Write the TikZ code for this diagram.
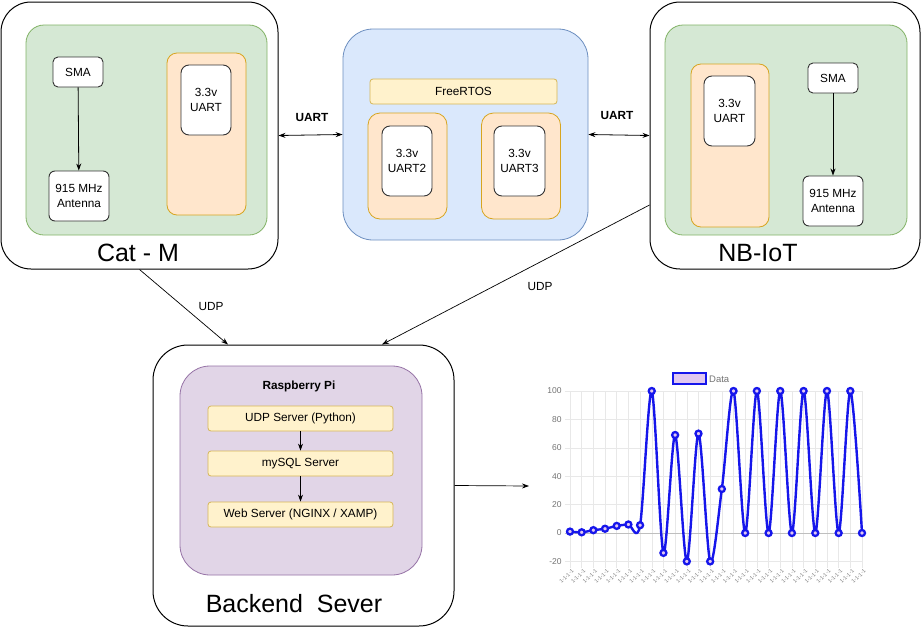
\documentclass[tikz,border=0pt]{standalone}
\usepackage{fontspec}
\setmainfont{Liberation Sans}
\usetikzlibrary{arrows.meta}
\definecolor{grnfill}{HTML}{D5E8D4}
\definecolor{grnline}{HTML}{82B366}
\definecolor{bluefill}{HTML}{DAE8FC}
\definecolor{blueline}{HTML}{6C8EBF}
\definecolor{orgfill}{HTML}{FFE6CC}
\definecolor{orgline}{HTML}{D7A520}
\definecolor{ylwfill}{HTML}{FFF2CC}
\definecolor{ylwline}{HTML}{D6B656}
\definecolor{prpfill}{HTML}{E1D5E7}
\definecolor{prpline}{HTML}{9673A6}
\definecolor{boxline}{HTML}{333333}
\definecolor{chartblue}{RGB}{22,22,235}
\definecolor{chartpink}{RGB}{225,200,240}
\newcommand{\lblfont}{\fontsize{11.8}{14.5}\selectfont}
\newcommand{\bigfont}{\fontsize{25}{28}\selectfont}
\tikzset{outerbox/.style={draw=black, line width=1pt, fill=white, rounded corners=30pt, inner sep=0pt},
 greenbox/.style={draw=grnline, line width=0.8pt, fill=grnfill, rounded corners=18pt, inner sep=0pt},
 bluebox/.style={draw=blueline, line width=0.8pt, fill=bluefill, rounded corners=30pt, inner sep=0pt},
 purplebox/.style={draw=prpline, line width=0.8pt, fill=prpfill, rounded corners=30pt, inner sep=0pt},
 orangebox/.style={draw=orgline, line width=0.8pt, fill=orgfill, rounded corners=10pt, inner sep=0pt},
 whitebox/.style={draw=boxline, line width=0.9pt, fill=white, rounded corners=6pt, inner sep=0pt, align=center, font=\lblfont},
 yellowbox/.style={draw=ylwline, line width=0.8pt, fill=ylwfill, rounded corners=3pt, inner sep=0pt, font=\lblfont},
 lbl/.style={inner sep=1pt, font=\lblfont},
 boldlbl/.style={inner sep=1pt, font=\lblfont\bfseries},
 biglbl/.style={inner sep=0pt, font=\bigfont},
 arr/.style={-{Stealth[length=7pt,width=5pt]}, line width=0.8pt},
 darr/.style={{Stealth[length=7pt,width=5pt]}-{Stealth[length=7pt,width=5pt]}, line width=0.8pt},
 gridline/.style={draw=black!9, line width=0.5pt},
 zeroline/.style={draw=black!25, line width=0.6pt},
 plotline/.style={draw=chartblue, line width=2.4pt, line join=round},
 pointmark/.style={draw=chartblue, fill=chartpink, line width=2.3pt},
 ticklbl/.style={inner sep=0pt, text=black!55, font=\fontsize{8.5}{10}\selectfont},
 xlbl/.style={inner sep=0pt, text=black!50, font=\fontsize{5.5}{6}\selectfont, rotate=45, anchor=east},
 }

\begin{document}
\begin{tikzpicture}[x=1pt, y=-1pt]
    \useasboundingbox (0,0) rectangle (922,627);
    % Cat-M module
    \node[outerbox, minimum width=277pt, minimum height=267pt] (catm) at (139.5,135.5) {};
    \node[greenbox, minimum width=241pt, minimum height=210pt] (catmboard) at (146.5,130) {};
    \node[whitebox, minimum width=50pt, minimum height=30pt, rounded corners=5pt] (catmsma) at (78,72) {SMA};
    \node[whitebox, minimum width=60pt, minimum height=50pt] (catmant) at (79,196) {915 MHz\\Antenna};
    \node[orangebox, minimum width=79pt, minimum height=162pt] (catmport) at (206.5,134) {};
    \node[whitebox, minimum width=50pt, minimum height=70pt, rounded corners=8pt] (catmuart) at (206,100) {3.3v\\UART};
    \node[biglbl] (catmlbl) at (138,253) {Cat - M};
    \draw[arr] (catmsma) -- (catmant);

    % MCU with FreeRTOS
    \node[bluebox, minimum width=245pt, minimum height=211pt] (mcu) at (465.5,134.5) {};
    \node[yellowbox, minimum width=187pt, minimum height=25pt] (rtos) at (463.5,91.5) {FreeRTOS};
    \node[orangebox, minimum width=79pt, minimum height=106pt, rounded corners=12pt] (port2) at (407.5,166) {};
    \node[whitebox, minimum width=50pt, minimum height=70pt, rounded corners=8pt] (uart2) at (407,161) {3.3v\\UART2};
    \node[orangebox, minimum width=79pt, minimum height=106pt, rounded corners=12pt] (port3) at (521,166) {};
    \node[whitebox, minimum width=51pt, minimum height=70pt, rounded corners=8pt] (uart3) at (519.5,161) {3.3v\\UART3};

    % NB-IoT module
    \node[outerbox, minimum width=270pt, minimum height=267pt] (nbiot) at (785,135.5) {};
    \node[greenbox, minimum width=242pt, minimum height=210pt] (nbiotboard) at (786,130) {};
    \node[orangebox, minimum width=78pt, minimum height=163pt] (nbiotport) at (730,145.5) {};
    \node[whitebox, minimum width=51pt, minimum height=70pt, rounded corners=8pt] (nbiotuart) at (729.5,111) {3.3v\\UART};
    \node[whitebox, minimum width=50pt, minimum height=30pt, rounded corners=5pt] (nbiotsma) at (833,78) {SMA};
    \node[whitebox, minimum width=60pt, minimum height=50pt] (nbiotant) at (833,201) {915 MHz\\Antenna};
    \node[biglbl] (nbiotlbl) at (758,253) {NB-IoT};
    \draw[arr] (nbiotsma) -- (nbiotant);

    % UART links
    \draw[darr] (catm.east) -- (mcu.west);
    \draw[darr] (mcu.east) -- (nbiot.west);
    \node[boldlbl] (uartl) at (312,117) {UART};
    \node[boldlbl] (uartr) at (617,115) {UART};

    % backend
    \node[outerbox, minimum width=301pt, minimum height=281pt, rounded corners=35pt] (backend) at (303.5,485.5) {};
    \node[purplebox, minimum width=242pt, minimum height=209pt] (rpi) at (301,470.5) {};
    \node[boldlbl] (rpilbl) at (299,386) {Raspberry Pi};
    \node[yellowbox, minimum width=185pt, minimum height=25pt] (udpsrv) at (300.5,418.5) {UDP Server (Python)};
    \node[yellowbox, minimum width=185pt, minimum height=25pt] (sqlsrv) at (300.5,463.5) {mySQL Server};
    \node[yellowbox, minimum width=185pt, minimum height=25pt] (websrv) at (300.5,514.5) {Web Server (NGINX / XAMP)};
    \node[biglbl] (backendlbl) at (294,604) {Backend\ \ Sever};
    \draw[arr] (udpsrv) -- (sqlsrv);
    \draw[arr] (sqlsrv) -- (websrv);

    % UDP links
    \draw[arr, line width=0.7pt] (catm.south) -- ([xshift=-75.5pt]backend.north);
    \draw[arr, line width=0.7pt] ([yshift=-69.5pt]nbiot.west) -- ([xshift=78.5pt]backend.north);
    \node[lbl] (udpl) at (211,306) {UDP};
    \node[lbl] (udpr) at (540,286) {UDP};

    % chart
    \coordinate (chartin) at (529,486);
    \draw[arr, line width=0.7pt] (backend.east) -- (chartin);
    \begin{scope}[shift={(570,533)}, x=11.68pt, y=1.42pt]
        \foreach \i in {0,...,25} {
            \draw[gridline] (\i,-24.5) -- (\i,100);
        }
        \foreach \v in {-20,20,40,60,80,100} {
            \draw[gridline] (-0.45,\v) -- (25,\v);
        }
        \draw[zeroline] (-0.45,0) -- (25,0);
        \foreach \v in {-20,0,20,40,60,80,100} {
            \node[ticklbl, anchor=east] at (-0.7,\v) {\v};
        }
        \foreach \i in {0,...,25} {
            \node[xlbl] at (\i+0.25,-26) {1-1-1-1};
        }
        \draw[plotline] plot[smooth, tension=0.5] coordinates {(0,1) (1,0.5) (2,2) (3,3) (4,5) (5,6) (6,5.5)
            (7,100) (8,-14) (9,69) (10,-20) (11,70) (12,-20) (13,31) (14,100) (15,0) (16,100) (17,0)
            (18,100) (19,0) (20,100) (21,0) (22,100) (23,0) (24,100) (25,0)};
        \foreach \i/\v in {0/1, 1/0.5, 2/2, 3/3, 4/5, 5/6, 6/5.5, 7/100, 8/-14, 9/69, 10/-20, 11/70, 12/-20,
            13/31, 14/100, 15/0, 16/100, 17/0, 18/100, 19/0, 20/100, 21/0, 22/100, 23/0, 24/100, 25/0} {
            \draw[pointmark] (\i,\v) circle[radius=3pt];
        }
    \end{scope}
    \draw[draw=chartblue, fill=chartpink, line width=1.4pt] (673,373) rectangle (706,384);
    \node[ticklbl, font=\fontsize{9.5}{11}\selectfont, anchor=west] (legend) at (709,379) {Data};
\end{tikzpicture}
\end{document}
